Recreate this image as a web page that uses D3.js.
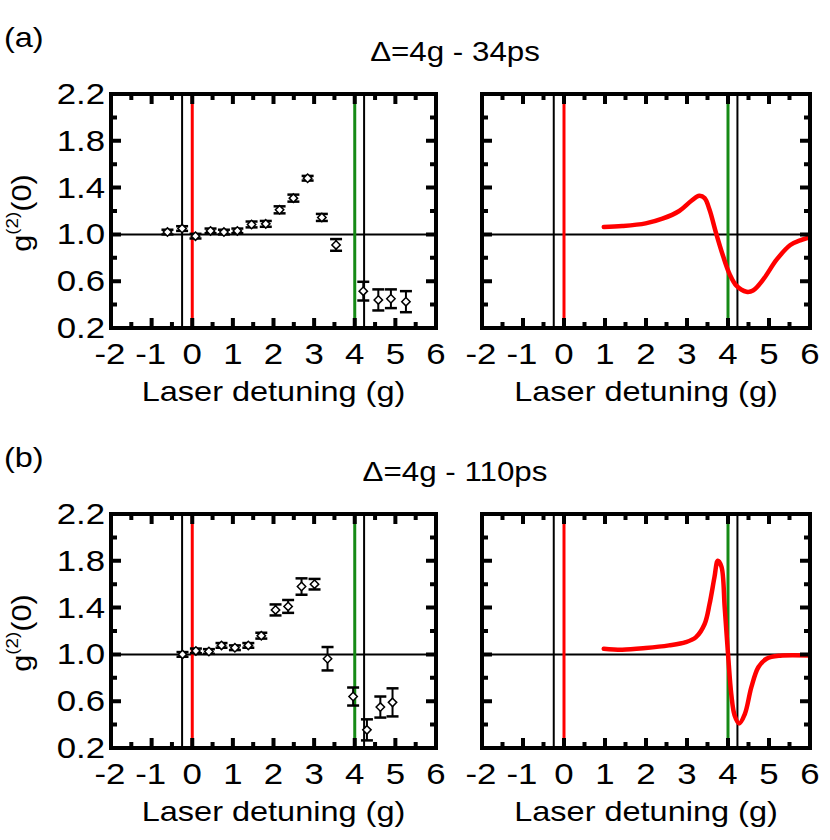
<!DOCTYPE html>
<html>
<head>
<meta charset="utf-8">
<script src="https://cdnjs.cloudflare.com/ajax/libs/d3/7.8.5/d3.min.js"></script>
<style>
body { margin: 0; background: #fff; }
svg text { font-family: "Liberation Sans", Arial, sans-serif; fill: #000; }
</style>
</head>
<body>
<svg id="chart" width="830" height="840"></svg>
<script>
// measured points, panel (a) 34ps
var expA_x = [-0.61, -0.25, 0.08, 0.45, 0.78, 1.11, 1.46, 1.81, 2.15, 2.49, 2.84, 3.19, 3.54, 4.21, 4.58, 4.89, 5.26];
var expA_y = [1.02, 1.05, 0.985, 1.03, 1.02, 1.03, 1.085, 1.09, 1.21, 1.31, 1.48, 1.145, 0.91, 0.515, 0.44, 0.45, 0.425];
var expA_err = [0.02, 0.02, 0.02, 0.02, 0.02, 0.02, 0.025, 0.025, 0.03, 0.03, 0.02, 0.03, 0.05, 0.08, 0.09, 0.08, 0.09];

// measured points, panel (b) 110ps
var expB_x = [-0.24, 0.09, 0.41, 0.72, 1.05, 1.38, 1.70, 2.05, 2.36, 2.69, 3.01, 3.33, 3.96, 4.30, 4.63, 4.93];
var expB_y = [1.0, 1.03, 1.025, 1.077, 1.057, 1.077, 1.16, 1.38, 1.41, 1.58, 1.60, 0.963, 0.64, 0.355, 0.55, 0.59];
var expB_err = [0.02, 0.02, 0.02, 0.02, 0.02, 0.02, 0.025, 0.047, 0.055, 0.07, 0.045, 0.10, 0.077, 0.09, 0.09, 0.12];

// theory curves
var thA_x = [0.97, 1.42, 1.99, 2.40, 2.81, 3.10, 3.30, 3.43, 3.55, 3.71, 3.88, 4.04, 4.21, 4.45, 4.61, 4.86, 5.19, 5.52, 5.76, 6.0];
var thA_y = [1.063, 1.071, 1.094, 1.134, 1.20, 1.285, 1.33, 1.31, 1.21, 1.01, 0.815, 0.66, 0.56, 0.51, 0.52, 0.615, 0.786, 0.909, 0.949, 0.977];

var thB_x = [0.97, 1.42, 1.99, 2.56, 2.97, 3.22, 3.43, 3.55, 3.67, 3.75, 3.84, 3.92, 4.0, 4.08, 4.16, 4.27, 4.41, 4.57, 4.74, 4.94, 5.27, 6.0];
var thB_y = [1.048, 1.04, 1.054, 1.077, 1.105, 1.148, 1.26, 1.43, 1.66, 1.80, 1.75, 1.40, 1.006, 0.66, 0.48, 0.41, 0.49, 0.72, 0.89, 0.963, 0.989, 0.99];

var xTicks = [-2, -1, 0, 1, 2, 3, 4, 5, 6];
var xMinorTicks = [-1.5, -0.5, 0.5, 1.5, 2.5, 3.5, 4.5, 5.5];
var yTicks = [0.2, 0.6, 1.0, 1.4, 1.8, 2.2];
var yMinorTicks = [0.4, 0.8, 1.2, 1.6, 2.0];
var vBlack = [-0.25, 4.23];
var titles = ["\u0394=4g - 34ps", "\u0394=4g - 110ps"];
var tags = ["(a)", "(b)"];

var svg = d3.select("#chart");
var green = "#158a15";
var stretch = 1.16; // text in the original is wider than it is tall

function zipPts(xs, ys, es) {
    return xs.map(function(x, i) { return { x: x, y: ys[i], e: es ? es[i] : 0 }; });
}

function addText(parent, x, y, str, size, anchor) {
    return parent.append("text")
    .attr("transform", "translate(" + x + "," + y + ") scale(" + stretch + ",1)")
    .attr("text-anchor", anchor || "start")
    .attr("font-size", size)
    .text(str);
}

// tick path: one path per side, built from the scale
function xTickPath(xScale, vals, y0, len) {
    return vals.map(function(d) {
        return "M" + xScale(d) + "," + y0 + "V" + (y0 + len);
    }).join("");
}

function yTickPath(yScale, vals, x0, len) {
    return vals.map(function(d) {
        return "M" + x0 + "," + yScale(d) + "H" + (x0 + len);
    }).join("");
}

function drawPanel(left, right, top, bottom, showY) {
    var xScale = d3.scaleLinear().domain([-2, 6]).range([left, right]);
    var yScale = d3.scaleLinear().domain([0.2, 2.2]).range([bottom, top]);
    var g = svg.append("g");

    var clip = "clip" + Math.round(left) + "_" + Math.round(top);
    svg.append("defs").append("clipPath").attr("id", clip)
    .append("rect").attr("x", left).attr("y", top).attr("width", right - left).attr("height", bottom - top);

    var inner = g.append("g").attr("clip-path", "url(#" + clip + ")");

    // reference lines
    inner.append("line").attr("x1", left).attr("x2", right)
    .attr("y1", yScale(1)).attr("y2", yScale(1)).attr("stroke", "#000").attr("stroke-width", 2);
    vBlack.forEach(function(v) {
        inner.append("line").attr("x1", xScale(v)).attr("x2", xScale(v))
        .attr("y1", top).attr("y2", bottom).attr("stroke", "#000").attr("stroke-width", 2);
    });
    inner.append("line").attr("x1", xScale(0)).attr("x2", xScale(0))
    .attr("y1", top).attr("y2", bottom).attr("stroke", "#ff0000").attr("stroke-width", 3);
    inner.append("line").attr("x1", xScale(4)).attr("x2", xScale(4))
    .attr("y1", top).attr("y2", bottom).attr("stroke", green).attr("stroke-width", 3);

    // ticks on all four sides, pointing in
    var tp = xTickPath(xScale, xTicks, bottom, -10) + xTickPath(xScale, xMinorTicks, bottom, -6) +
        xTickPath(xScale, xTicks, top, 10) + xTickPath(xScale, xMinorTicks, top, 6) +
        yTickPath(yScale, yTicks, left, 10) + yTickPath(yScale, yMinorTicks, left, 6) +
        yTickPath(yScale, yTicks, right, -10) + yTickPath(yScale, yMinorTicks, right, -6);
    svg.append("path").attr("d", tp).attr("fill", "none").attr("stroke", "#000").attr("stroke-width", 4);

    // frame
    svg.append("rect").attr("x", left).attr("y", top).attr("width", right - left).attr("height", bottom - top)
    .attr("fill", "none").attr("stroke", "#000").attr("stroke-width", 4);

    // tick labels
    xTicks.forEach(function(d) {
        addText(g, xScale(d) + (d < 0 ? -1 : 0), bottom + 36, d, 30, "middle");
    });

    if (showY) {
        yTicks.forEach(function(d) {
            addText(g, left - 6, yScale(d) + 10, d.toFixed(1), 30, "end");
        });

        var yl = g.append("text")
        .attr("transform", "translate(31," + ((top + bottom) / 2 + 2) + ") rotate(-90) scale(1.1,1)")
        .attr("text-anchor", "middle")
        .attr("font-size", 28);
        yl.append("tspan").text("g");
        yl.append("tspan").attr("font-size", 17).attr("dy", -13).text("(2)");
        yl.append("tspan").attr("dy", 13).text("(0)");
    }

    addText(g, (left + right) / 2, bottom + 73, "Laser detuning (g)", 28, "middle");

    return { g: g, inner: inner, x: xScale, y: yScale };
}

function drawPoints(p, pts) {
    var grp = p.g.selectAll(".pt").data(pts).enter().append("g");
    grp.append("line")
    .attr("x1", function(d) { return p.x(d.x); }).attr("x2", function(d) { return p.x(d.x); })
    .attr("y1", function(d) { return p.y(d.y - d.e); }).attr("y2", function(d) { return p.y(d.y + d.e); })
    .attr("stroke", "#000").attr("stroke-width", 2);
    [-1, 1].forEach(function(s) {
        grp.append("line")
        .attr("x1", function(d) { return p.x(d.x) - 6; }).attr("x2", function(d) { return p.x(d.x) + 6; })
        .attr("y1", function(d) { return p.y(d.y + s * d.e); }).attr("y2", function(d) { return p.y(d.y + s * d.e); })
        .attr("stroke", "#000").attr("stroke-width", 2.5);
    });
    grp.append("path")
    .attr("d", d3.symbol().type(d3.symbolDiamond2).size(45))
    .attr("transform", function(d) { return "translate(" + p.x(d.x) + "," + p.y(d.y) + ")"; })
    .attr("fill", "#fff").attr("stroke", "#000").attr("stroke-width", 1.5);
}

function drawCurve(p, pts) {
    var line = d3.line()
    .x(function(d) { return p.x(d.x); })
    .y(function(d) { return p.y(d.y); })
    .curve(d3.curveCatmullRom.alpha(0.5));
    p.inner.append("path").datum(pts)
    .attr("d", line)
    .attr("fill", "none").attr("stroke", "#ff0000").attr("stroke-width", 4.5)
    .attr("stroke-linecap", "round");
}

var rows = [{ top: 94, bottom: 328 }, { top: 514, bottom: 748 }];
var exps = [zipPts(expA_x, expA_y, expA_err), zipPts(expB_x, expB_y, expB_err)];
var ths = [zipPts(thA_x, thA_y), zipPts(thB_x, thB_y)];

rows.forEach(function(r, i) {
    addText(svg, 4, r.top - 47, tags[i], 28, "start");
    addText(svg, 455, r.top - 33, titles[i], 27, "middle");

    var pl = drawPanel(111, 436, r.top, r.bottom, true);
    drawPoints(pl, exps[i]);
    var pr = drawPanel(482, 810, r.top, r.bottom, false);
    drawCurve(pr, ths[i]);
});
</script>
</body>
</html>
